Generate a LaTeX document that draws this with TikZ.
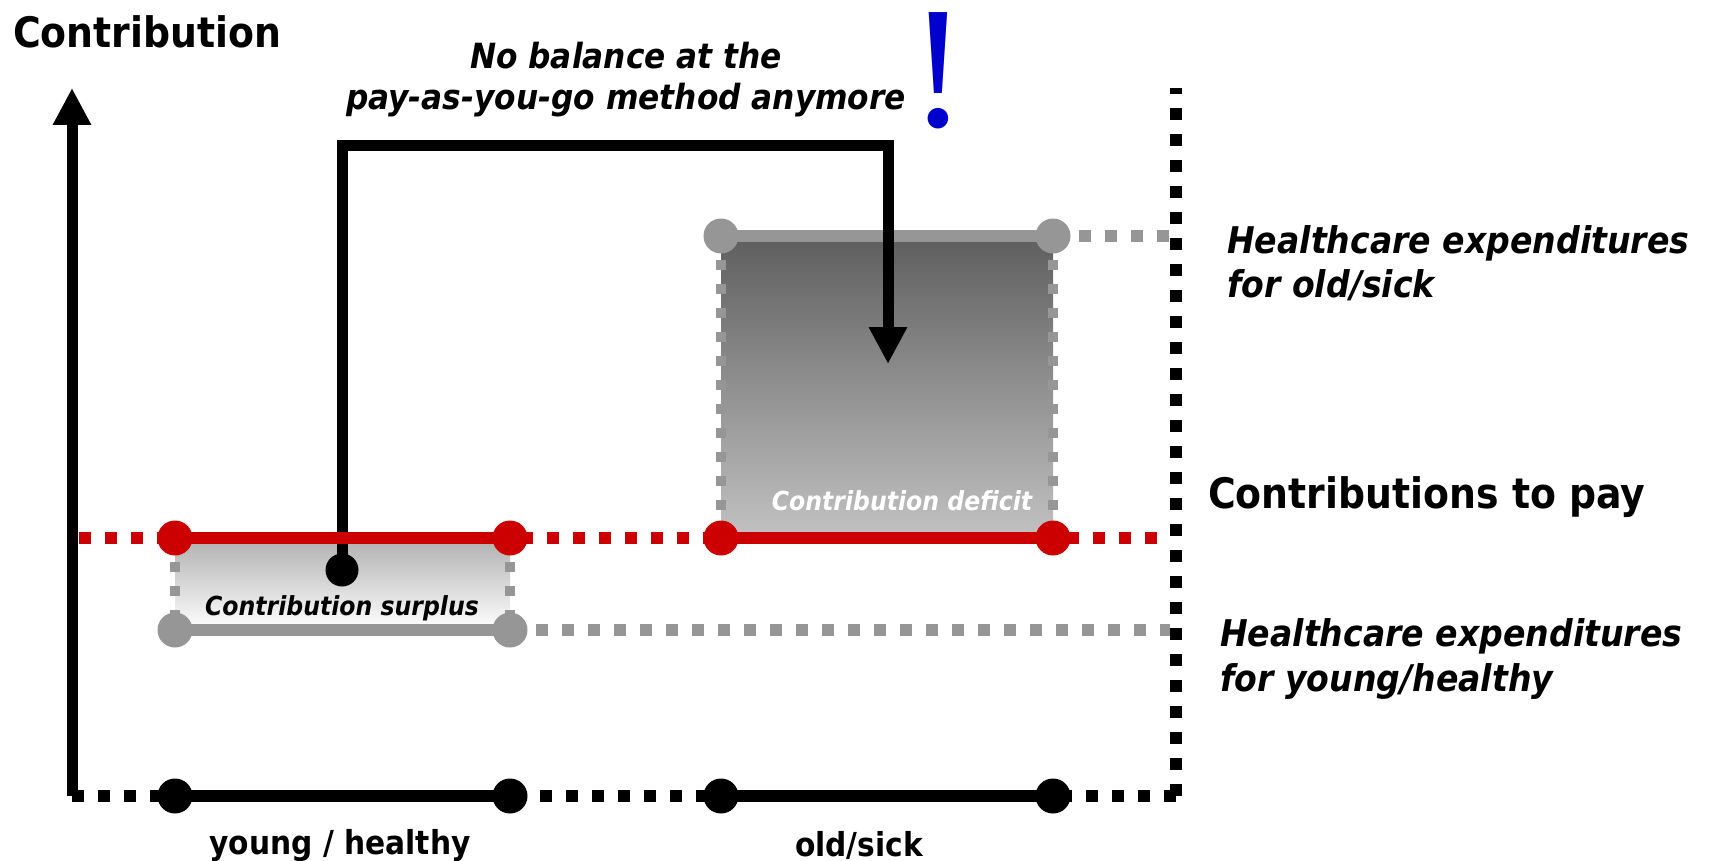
\documentclass[tikz,border=0pt]{standalone}
\usepackage{fontspec}
\setmainfont{DejaVu Sans}[FakeStretch=0.9]
\newfontfamily\exclfont{Liberation Serif}
\usetikzlibrary{arrows.meta}
\definecolor{redl}{HTML}{CC0000}
\definecolor{grayl}{HTML}{969696}
\definecolor{bluex}{HTML}{0000CC}
\begin{document}
\begin{tikzpicture}[x=1pt,y=-1pt,
  dotline/.style={line width=12pt, dash pattern=on 12pt off 14pt},
  solidline/.style={line width=12pt},
  sidedots/.style={grayl, line width=10pt, dash pattern=on 10pt off 14pt},
  dotnode/.style={circle, inner sep=0pt, minimum size=35pt, fill=#1},
  lbl/.style={inner sep=0pt},
  bigbold/.style={lbl, font=\fontsize{42}{50}\selectfont\bfseries},
  hcare/.style={lbl, anchor=base west, font=\fontsize{36.8}{44}\selectfont\bfseries\itshape},
  axlbl/.style={lbl, anchor=base, font=\fontsize{33}{40}\selectfont\bfseries},
  boxlbl/.style={lbl, anchor=base, font=\fontsize{26.2}{32}\selectfont\bfseries\itshape},
  conn/.style={line width=11pt, line join=miter}
]
\useasboundingbox (0,0) rectangle (1715,861);

% coordinates
\coordinate (origin) at (72,796);
\coordinate (ytop) at (72,88);
\coordinate (xend) at (1176,796);
\coordinate (rtop) at (1176,88);
\coordinate (b1) at (175,796);
\coordinate (b2) at (510,796);
\coordinate (b3) at (721,796);
\coordinate (b4) at (1053,796);
\coordinate (r0) at (79,538);
\coordinate (r1) at (175,538);
\coordinate (r2) at (510,538);
\coordinate (r3) at (721,538);
\coordinate (r4) at (1053,538);
\coordinate (r5) at (1170,538);
\coordinate (g1) at (175,630);
\coordinate (g2) at (510,630);
\coordinate (g5) at (1170,630);
\coordinate (h3) at (721,236);
\coordinate (h4) at (1053,236);
\coordinate (h5) at (1170,236);
\coordinate (bend) at (888,146);
\coordinate (tip) at (888,364);

% shaded boxes
\shade[top color=black!63, bottom color=black!24] (h3) rectangle (r4);
\shade[top color=black!31, bottom color=white] (r1) rectangle (g2);
\draw[sidedots] (h3) -- (r3);
\draw[sidedots] (h4) -- (r4);
\draw[sidedots] (r1) -- (g1);
\draw[sidedots] (r2) -- (g2);

% axes
\draw[dotline] (origin) -- (xend);
\draw[dotline] (xend) -- (rtop);
\draw[line width=11pt, -{Triangle[length=37pt,width=36pt]}] (origin) -- (ytop);
\draw[solidline] (b1) -- (b2);
\draw[solidline] (b3) -- (b4);
\foreach \p in {b1,b2,b3,b4} \node[dotnode=black] (n\p) at (\p) {};

% gray levels
\draw[dotline, grayl] (h4) -- (h5);
\draw[dotline, grayl] (g2) -- (g5);
\draw[solidline, grayl] (h3) -- (h4);
\draw[solidline, grayl] (g1) -- (g2);
\foreach \p in {h3,h4,g1,g2} \node[dotnode=grayl] (n\p) at (\p) {};

% connector
\node[dotnode=black, minimum size=33pt] (cs) at (342,570) {};
\draw[conn, -{Triangle[length=37pt,width=36pt]}] (cs.center) |- (bend) -- (tip);

% red level
\draw[dotline, redl] (r0) -- (r5);
\draw[solidline, redl] (r1) -- (r2);
\draw[solidline, redl] (r3) -- (r4);
\foreach \p in {r1,r2,r3,r4} \node[dotnode=redl] (n\p) at (\p) {};

% texts
\node[bigbold, anchor=base west] (ttl) at (13,48) {Contribution};
\node[lbl, anchor=base, font=\fontsize{34.7}{41}\selectfont\bfseries\itshape] (bal1) at (626,69) {No balance at the};
\node[lbl, anchor=base, font=\fontsize{34.7}{41}\selectfont\bfseries\itshape] (bal2) at (626,110) {pay-as-you-go method anymore};
\node[lbl, anchor=base, text=bluex, text height=116pt, text depth=0pt, font=\exclfont\fontsize{174}{174}\selectfont] (excl) at (938,127) {!};
\node[hcare] (ho1) at (1227,253) {Healthcare expenditures};
\node[hcare] (ho2) at (1227,297) {for old/sick};
\node[bigbold, anchor=base west] (ctp) at (1208,508) {Contributions to pay};
\node[hcare] (hy1) at (1220,646) {Healthcare expenditures};
\node[hcare] (hy2) at (1220,691) {for young/healthy};
\node[boxlbl] (sur) at (342,615) {Contribution surplus};
\node[boxlbl, text=white] (def) at (902,510) {Contribution deficit};
\node[axlbl] (yh) at (340,854) {young / healthy};
\node[axlbl] (os) at (859,856) {old/sick};
\end{tikzpicture}
\end{document}
